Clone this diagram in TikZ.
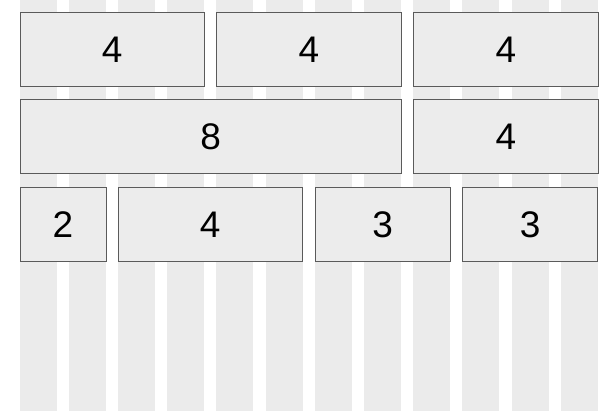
\documentclass[tikz,border=0pt]{standalone}
\usepackage{fontspec}
\setmainfont{Liberation Sans}
\definecolor{colgray}{HTML}{EBEBEB}
\definecolor{boxgray}{HTML}{ECECEC}
\definecolor{edgegray}{HTML}{5A5A5A}
\begin{document}
\begin{tikzpicture}[x=1pt,y=-1pt,
  gridcol/.style={fill=colgray, draw=none},
  cell/.style={draw=edgegray, line width=0.9pt, fill=boxgray, inner sep=0pt,
    anchor=north west, font=\fontsize{37}{37}\selectfont, text=black}]
\useasboundingbox (0,0) rectangle (615,411);
\fill[white] (0,0) rectangle (615,411);
\foreach \i in {0,...,11}{
  \fill[colgray] ({19.5+49.2*\i},0) rectangle ({56.5+49.2*\i},411);
}
% row 1
\node[cell, minimum width=184.5pt, minimum height=74pt] (r1a) at (19.5,12.5) {4};
\node[cell, minimum width=184.5pt, minimum height=74pt] (r1b) at (216.3,12.5) {4};
\node[cell, minimum width=184.5pt, minimum height=74pt] (r1c) at (413.1,12.5) {4};
% row 2
\node[cell, minimum width=381.3pt, minimum height=74pt] (r2a) at (19.5,99.5) {8};
\node[cell, minimum width=184.5pt, minimum height=74pt] (r2b) at (413.1,99.5) {4};
% row 3
\node[cell, minimum width=86pt, minimum height=74pt] (r3a) at (19.5,187) {2};
\node[cell, minimum width=184pt, minimum height=74pt] (r3b) at (117.6,187) {4};
\node[cell, minimum width=135pt, minimum height=74pt] (r3c) at (314.7,187) {3};
\node[cell, minimum width=135pt, minimum height=74pt] (r3d) at (462.3,187) {3};
\end{tikzpicture}
\end{document}
